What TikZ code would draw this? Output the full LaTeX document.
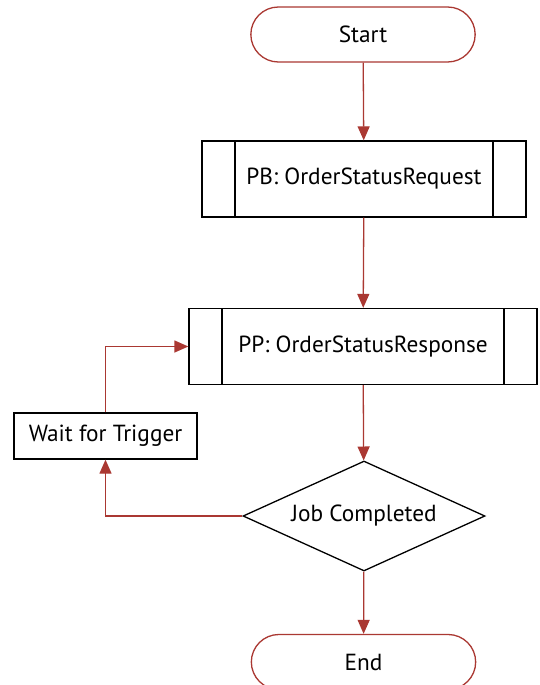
\documentclass[tikz,border=0pt]{standalone}
\usepackage{fontspec}
\setmainfont{PT Sans}
\usetikzlibrary{
    arrows.meta,
    shapes.misc,
    shapes.geometric,
    positioning
}
\definecolor{flowred}{RGB}{170,56,50}

\begin{document}
\begin{tikzpicture}[x=1pt, y=-1pt,
        font=\fontsize{23.3}{26}\selectfont,
        line width=1.3pt,
        term/.style={rounded rectangle, draw=flowred, fill=white,
            minimum width=231pt, minimum height=55pt},
        subproc/.style={rectangle, draw=black, minimum height=76pt,
            path picture={
                \draw[black] ([xshift=33pt]path picture bounding box.north west)
                    -- ([xshift=33pt]path picture bounding box.south west);
                \draw[black] ([xshift=-33pt]path picture bounding box.north east)
                    -- ([xshift=-33pt]path picture bounding box.south east);
            }},
        procbox/.style={rectangle, draw=black, minimum width=183pt, minimum height=46pt},
        decide/.style={diamond, draw=black, aspect=2.2, inner sep=0pt,
            minimum width=242pt, minimum height=110pt},
        flow/.style={draw=flowred, -{Triangle[length=14pt, width=12pt]}}
    ]
    \clip (0,0) rectangle (540,685);

    \node[term] (start) at (363, 34.5) {Start};
    \node[subproc, minimum width=324pt] (pb) at (364, 179) {PB: OrderStatusRequest};
    \node[subproc, minimum width=348pt] (pp) at (363, 346.5) {PP: OrderStatusResponse};
    \node[procbox] (wait) at (105.5, 436) {Wait for Trigger};
    \node[decide] (job) at (364, 516) {Job Completed};
    \node[term] (end) at (363.5, 662) {End};

    \draw
    (start) edge[flow] (pb)
    (pb) edge[flow] (pp)
    (pp) edge[flow] (job)
    (job) edge[flow] (end);
    \draw[flow] (job.west) -| (wait.south);
    \draw[flow] (wait.north) |- (pp.west);
\end{tikzpicture}
\end{document}
